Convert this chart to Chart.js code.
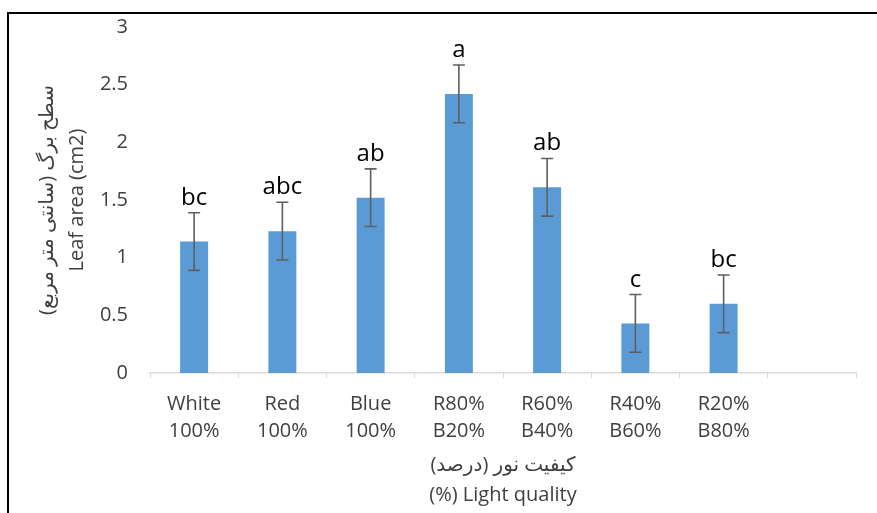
<!DOCTYPE html>
<html>
<head>
<meta charset="utf-8">
<script src="https://cdn.jsdelivr.net/npm/chart.js@4/dist/chart.umd.min.js"></script>
<style>
  html, body { margin: 0; padding: 0; background: #ffffff; overflow: hidden; }
  #wrap { position: relative; width: 877px; height: 513px; }
  #frame { position: absolute; left: 7px; top: 12px; width: 1000px; height: 1000px;
           border-top: 2px solid #000; border-left: 2px solid #000; box-sizing: border-box; }
  canvas { position: absolute; left: 0; top: 0; }
</style>
</head>
<body>
<div id="wrap">
  <div id="frame"></div>
  <canvas id="chart" width="877" height="513"></canvas>
</div>
<script>
// Light treatments (the last slot is left empty on the axis)
const categories = [
  ['White', '100%'], ['Red', '100%'], ['Blue', '100%'],
  ['R80%', 'B20%'], ['R60%', 'B40%'], ['R40%', 'B60%'], ['R20%', 'B80%'], ''
];
// Mean leaf area (cm2)
const leafArea = [1.14, 1.23, 1.52, 2.42, 1.61, 0.43, 0.60];
// Standard error for each mean
const stdError = [0.25, 0.25, 0.25, 0.25, 0.25, 0.25, 0.25];
// Mean-comparison letters
const groupLetters = ['bc', 'abc', 'ab', 'a', 'ab', 'c', 'bc'];
// Value axis ticks
const yTicks = [0, 0.5, 1, 1.5, 2, 2.5, 3];

const RLM = '\u200F';
const FONT = '"Open Sans", "DejaVu Sans", sans-serif';

// Error bars with caps, plus the letter above each bar
const errorBarPlugin = {
  id: 'errorBars',
  afterDatasetsDraw(chart) {
    const { ctx, scales: { y } } = chart;
    const meta = chart.getDatasetMeta(0);
    ctx.save();
    ctx.strokeStyle = '#5f5f5f';
    ctx.lineWidth = 1.6;
    meta.data.forEach((bar, i) => {
      const cx = bar.x;
      const top = y.getPixelForValue(leafArea[i] + stdError[i]);
      const bottom = y.getPixelForValue(leafArea[i] - stdError[i]);
      const cap = 6;
      ctx.beginPath();
      ctx.moveTo(cx, top); ctx.lineTo(cx, bottom);
      ctx.moveTo(cx - cap, top); ctx.lineTo(cx + cap, top);
      ctx.moveTo(cx - cap, bottom); ctx.lineTo(cx + cap, bottom);
      ctx.stroke();
      ctx.fillStyle = '#000000';
      ctx.font = '24px ' + FONT;
      ctx.textAlign = 'center';
      ctx.textBaseline = 'alphabetic';
      ctx.fillText(groupLetters[i], cx, top - 8);
    });
    ctx.restore();
  }
};

new Chart(document.getElementById('chart'), {
  type: 'bar',
  data: {
    labels: categories,
    datasets: [{
      data: leafArea,
      backgroundColor: '#5b9bd5',
      borderWidth: 0,
      barPercentage: 0.317,
      categoryPercentage: 1
    }]
  },
  options: {
    responsive: false,
    animation: false,
    layout: { padding: { top: 27, right: 21, bottom: 0, left: 0 } },
    plugins: { legend: { display: false }, tooltip: { enabled: false } },
    scales: {
      x: {
        afterFit(scale) { scale.height = 140; scale.paddingLeft = 0; scale.paddingRight = 0; },
        grid: { display: true, drawOnChartArea: false, drawTicks: true, tickLength: 5,
                color: '#d9d9d9', lineWidth: 1, offset: true },
        border: { display: true, color: '#d9d9d9', width: 1.5 },
        ticks: { color: '#404040', padding: 13, maxRotation: 0, autoSkip: false,
                 font: { family: FONT, size: 20, lineHeight: 1.35 } },
        title: {
          display: true,
          text: [RLM + 'کیفیت نور (درصد)' + RLM, '(%) Light quality'],
          color: '#404040',
          padding: { top: 0, bottom: 3 },
          font: { family: FONT, size: 20, lineHeight: 1.5 }
        }
      },
      y: {
        min: 0,
        max: 3,
        afterFit(scale) { scale.width = 150; scale.paddingTop = 0; scale.paddingBottom = 0; },
        afterBuildTicks(scale) { scale.ticks = yTicks.map(v => ({ value: v })); },
        grid: { display: false, drawTicks: false },
        border: { display: false },
        ticks: { color: '#404040', padding: 22,
                 callback: (v) => String(v),
                 font: { family: FONT, size: 20 } },
        title: {
          display: true,
          text: [RLM + 'سطح برگ (سانتی متر مربع)' + RLM, 'Leaf area (cm2)'],
          color: '#404040',
          padding: { top: 32, bottom: 0 },
          font: { family: FONT, size: 20, lineHeight: 1.5 }
        }
      }
    }
  },
  plugins: [errorBarPlugin]
});
</script>
</body>
</html>
